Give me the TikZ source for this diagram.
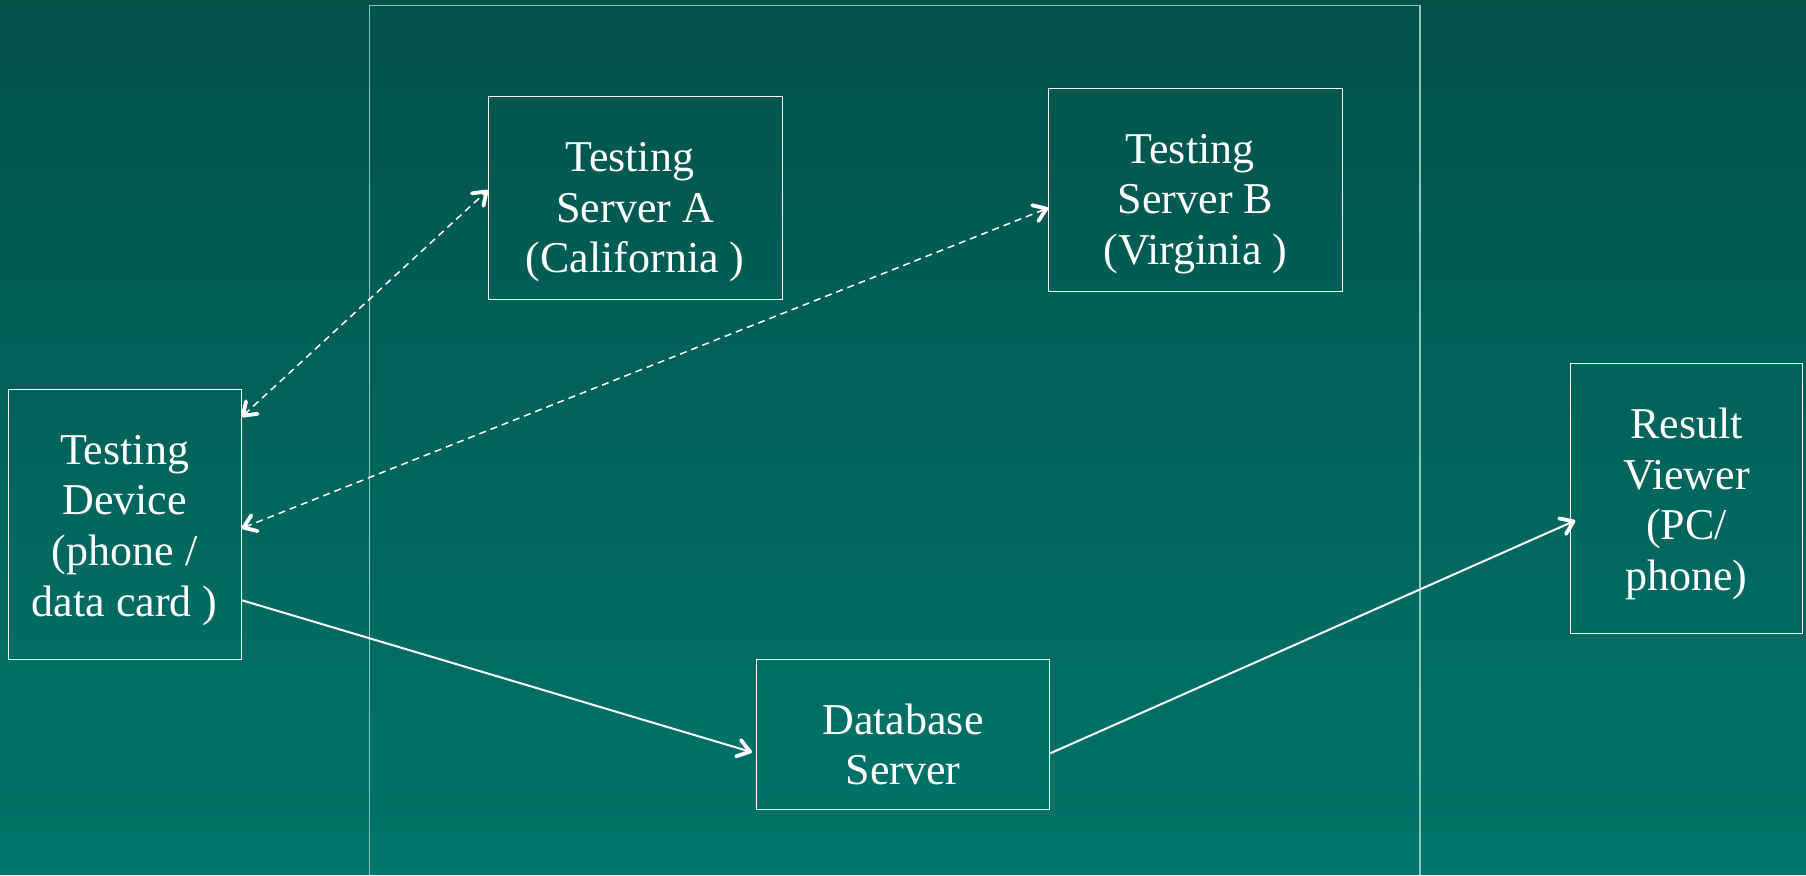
\documentclass[tikz,border=0pt]{standalone}
\usepackage{fontspec}
\setmainfont{Liberation Serif}
\usetikzlibrary{arrows.meta,calc,positioning}
\definecolor{bgtop}{HTML}{02524A}
\definecolor{bgbot}{HTML}{00756B}
\definecolor{framecol}{HTML}{8CC7BE}
\tikzset{
  box/.style={draw=white, line width=0.5pt, inner sep=0pt},
  lbl/.style={text=white, align=center, inner sep=0pt,
    font=\fontsize{22}{25.3}\selectfont},
  tipV/.tip={Straight Barb[length=6pt,width=8.5pt,line width=1.9pt,round]},
  link/.style={white, line width=1pt, -tipV},
  dlink/.style={white, line width=0.75pt, dash pattern=on 3.5pt off 2.5pt, tipV-tipV}
}
\begin{document}
\begin{tikzpicture}[x=0.5pt,y=-0.5pt]
  \def\bw{146.8pt}
  \shade[top color=bgtop, bottom color=bgbot](0,0) rectangle (1806,875);
  % cloud side
  \draw[framecol, line width=0.7pt](369.5,875)--(369.5,5.5)--(1420,5.5)--(1420,875);
  % boxes
  \node[box, minimum width=116.5pt, minimum height=135pt](dev) at (124.6,524.3) {};
  \node[box, minimum width=\bw, minimum height=101.4pt](srvA) at (635.2,198.2) {};
  \node[box, minimum width=\bw, minimum height=101.4pt](srvB) at (1195.5,190) {};
  \node[box, minimum width=\bw, minimum height=75pt](db) at (903,734.3) {};
  \node[box, minimum width=116.2pt, minimum height=135pt](res) at (1686.5,499) {};
  % texts
  \node[lbl](devT) at ([yshift=-3pt]dev.center) {Testing\\Device\\(phone /\\data card )};
  \node[lbl](srvAT) at ([yshift=-7pt]srvA.center) {Testing\kern5.5pt\\Server A\\(California )};
  \node[lbl](srvBT) at ([yshift=-7pt]srvB.center) {Testing\kern5.5pt\\Server B\\(Virginia )};
  \node[lbl](dbT) at ([yshift=-5pt]db.center) {Database\\Server};
  \node[lbl](resT) at ([yshift=-2.5pt]res.center) {Result\\Viewer\\(PC/\\phone)};
  % connections
  \draw[dlink]($(dev.north east)!0.104!(dev.south east)$)--([yshift=4pt]srvA.west);
  \draw[dlink]([yshift=-2pt]dev.east)--([yshift=-9pt]srvB.west);
  \draw[link, shorten >=2pt]($(dev.north east)!0.78!(dev.south east)$)--([yshift=-9.5pt]db.west);
  \draw[link, shorten >=-3pt]([yshift=-9.5pt]db.east)--([yshift=-12pt]res.west);
\end{tikzpicture}
\end{document}
